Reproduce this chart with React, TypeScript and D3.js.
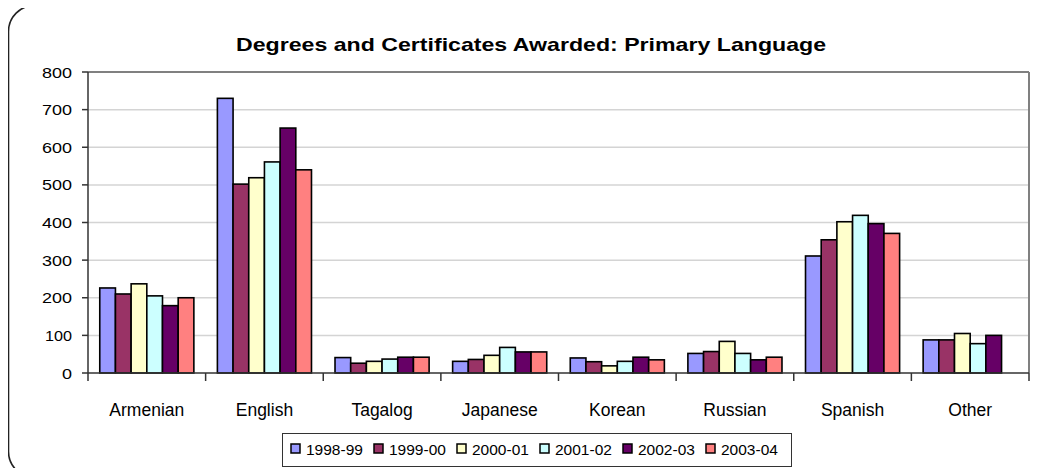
import React from "react";
import * as d3 from "d3";

const categories = ["Armenian", "English", "Tagalog", "Japanese", "Korean", "Russian", "Spanish", "Other"];
const seriesNames = ["1998-99", "1999-00", "2000-01", "2001-02", "2002-03", "2003-04"];
const colors = ["#9999FF", "#993366", "#FFFFCC", "#CCFFFF", "#660066", "#FF8080"];
const v1998 = [226, 730, 41, 31, 40, 52, 311, 88];
const v1999 = [210, 502, 26, 36, 30, 57, 354, 88];
const v2000 = [237, 519, 31, 47, 19, 84, 402, 105];
const v2001 = [205, 561, 37, 68, 31, 52, 419, 78];
const v2002 = [179, 651, 42, 56, 42, 35, 397, 100];
const v2003 = [200, 540, 42, 56, 35, 42, 371, null];
const seriesValues = [v1998, v1999, v2000, v2001, v2002, v2003];
const yTicks = [0, 100, 200, 300, 400, 500, 600, 700, 800];

export default function App() {
  const W = 1044, H = 476;
  const left = 88, right = 1029, top = 72, bottom = 373;
  const x0 = d3.scaleBand<string>().domain(categories).range([left, right]).paddingInner(0).paddingOuter(0);
  const bw = x0.bandwidth();
  const x1 = d3.scaleBand<string>().domain(seriesNames).range([bw * 0.1, bw * 0.9]).padding(0);
  const y = d3.scaleLinear().domain([0, 800]).range([bottom, top]);
  const font = "'Liberation Sans', Arial, sans-serif";
  const legendStart = 291, legendStride = 83;

  return (
    <div style={{ margin: -8 }}>
      <svg width={W} height={H} style={{ display: "block", background: "#fff" }}>
        <rect x={8.5} y={5.5} width={1045} height={472} rx={26} ry={26} fill="#fff" stroke="#222" strokeWidth={1.6} />
        <text x={531} y={51} textAnchor="middle" fontFamily={font} fontWeight="bold" fontSize={18.5} textLength={590} lengthAdjust="spacingAndGlyphs" fill="#000">
          Degrees and Certificates Awarded: Primary Language
        </text>
        {yTicks.filter(t => t > 0 && t < 800).map(t => (
          <line key={"g" + t} x1={left} x2={right} y1={y(t)} y2={y(t)} stroke="#d4d4d4" strokeWidth={1.5} />
        ))}
        <line x1={left} x2={right} y1={top} y2={top} stroke="#808080" strokeWidth={2} />
        <line x1={right} x2={right} y1={top} y2={bottom} stroke="#808080" strokeWidth={2} />
        {seriesValues.map((vals, si) =>
          vals.map((v, ci) =>
            v == null ? null : (
              <rect key={si + "-" + ci}
                x={(x0(categories[ci]) ?? 0) + (x1(seriesNames[si]) ?? 0)}
                y={y(v)} width={x1.bandwidth()} height={y(0) - y(v)}
                fill={colors[si]} stroke="#000" strokeWidth={1.6} />
            )
          )
        )}
        <line x1={left} x2={left} y1={top} y2={bottom + 8} stroke="#333" strokeWidth={1.5} />
        <line x1={left} x2={right} y1={bottom} y2={bottom} stroke="#333" strokeWidth={1.5} />
        {yTicks.map(t => (
          <g key={"t" + t}>
            <line x1={left - 6} x2={left} y1={y(t)} y2={y(t)} stroke="#333" strokeWidth={1.5} />
            <text x={72} y={y(t) + 5.5} textAnchor="end" fontFamily={font} fontSize={15} fill="#000"
              textLength={String(t).length * 10 - (String(t)[0] === "1" ? 3 : 0)} lengthAdjust="spacingAndGlyphs">{t}</text>
          </g>
        ))}
        {categories.map((c, i) => (
          <line key={"ct" + c} x1={(x0(c) ?? 0) + bw} x2={(x0(c) ?? 0) + bw} y1={bottom} y2={bottom + 8} stroke="#333" strokeWidth={1.5} />
        ))}
        {categories.map(c => (
          <text key={"cl" + c} x={(x0(c) ?? 0) + bw / 2} y={416} textAnchor="middle" fontFamily={font} fontSize={17.5} fill="#000">{c}</text>
        ))}
        <rect x={282.5} y={433.5} width={509} height={33} fill="#fff" stroke="#333" strokeWidth={1} />
        {seriesNames.map((s, i) => (
          <g key={"lg" + s}>
            <rect x={legendStart + i * legendStride} y={444} width={9} height={9} fill={colors[i]} stroke="#000" strokeWidth={1.5} />
            <text x={legendStart + i * legendStride + 15} y={454.5} fontFamily={font} fontSize={15.5} fill="#000">{s}</text>
          </g>
        ))}
      </svg>
    </div>
  );
}
